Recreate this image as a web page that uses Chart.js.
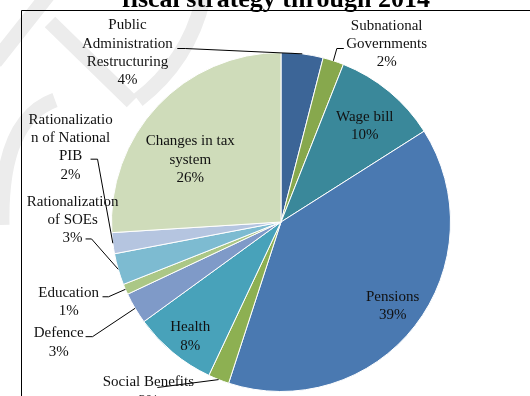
<!DOCTYPE html>
<html>
<head>
<meta charset="utf-8">
<script src="https://cdn.jsdelivr.net/npm/chart.js@4.4.1/dist/chart.umd.min.js"></script>
<style>
  html, body { margin: 0; padding: 0; background: #ffffff; }
  #wrap { position: relative; width: 530px; height: 396px; }
</style>
</head>
<body>
<div id="wrap"><canvas id="chart" width="530" height="396"></canvas></div>
<script>
// Composition of the fiscal strategy measures (shares in %)
const categories = [
  'Public Administration Restructuring',
  'Subnational Governments',
  'Wage bill',
  'Pensions',
  'Social Benefits',
  'Health',
  'Defence',
  'Education',
  'Rationalization of SOEs',
  'Rationalization of National PIB',
  'Changes in tax system'
];
const shares = [4, 2, 10, 39, 2, 8, 3, 1, 3, 2, 26];

// Wrapped label text (category part; the percentage is appended from shares)
const labelLines = [
  ['Public', 'Administration', 'Restructuring'],
  ['Subnational', 'Governments'],
  ['Wage bill'],
  ['Pensions'],
  ['Social Benefits'],
  ['Health'],
  ['Defence'],
  ['Education'],
  ['Rationalization', 'of SOEs'],
  ['Rationalizatio', 'n of National', 'PIB'],
  ['Changes in tax', 'system']
];

const sliceColors = [
  '#3c6597', '#87a84d', '#3a889a', '#4a79b1', '#8db052', '#48a2ba',
  '#7f9ac8', '#abc786', '#7dbbd1', '#b5c5e0', '#cfdcba'
];

// Label layout, in pixels relative to the pie centre for a 170px radius.
// c: centre of the text block; s: leader start; e: leader elbow (optional).
const labelLayout = [
  { c: [-154, -169.5], s: [-104, -174], e: [-96, -174] },
  { c: [106, -178.5], s: [63, -174], e: [56, -174] },
  { c: [84, -96] },
  { c: [112, 84] },
  { c: [-133, 170], s: [-124, 166] },
  { c: [-91, 115] },
  { c: [-223, 121], s: [-196, 115], e: [-189, 115] },
  { c: [-213, 80], s: [-179, 75], e: [-173, 75] },
  { c: [-209, -2], s: [-196, 17], e: [-190, 17] },
  { c: [-211, -75], s: [-191, -63], e: [-184, -63] },
  { c: [-91, -62.5] }
];

const FONT = '15px "Liberation Serif", "Times New Roman", serif';
const LINE_H = 18.3;

// Faint background watermark strokes
const backdrop = {
  id: 'backdrop',
  beforeDraw(chart) {
    const ctx = chart.ctx;
    ctx.save();
    ctx.fillStyle = '#ffffff';
    ctx.fillRect(0, 0, chart.width, chart.height);
    ctx.strokeStyle = '#ececec';
    ctx.lineWidth = 15;
    ctx.lineCap = 'butt';
    ctx.beginPath();
    ctx.moveTo(48, -5); ctx.lineTo(-5, 62);
    ctx.moveTo(50, 22); ctx.lineTo(132, 102);
    ctx.moveTo(204, -5);
    ctx.quadraticCurveTo(190, 60, 138, 100);
    ctx.moveTo(2, 225);
    ctx.quadraticCurveTo(0, 120, 55, 100);
    ctx.stroke();
    ctx.restore();
  }
};

// Title line, frame and slice labels with leader lines
const annotate = {
  id: 'annotate',
  afterDraw(chart) {
    const ctx = chart.ctx;
    const arcs = chart.getDatasetMeta(0).data;
    if (!arcs.length) return;
    const p0 = arcs[0].getProps(['x', 'y', 'outerRadius'], true);
    const cx = p0.x, cy = p0.y, R = p0.outerRadius;
    const k = R / 170;

    ctx.save();
    // frame
    ctx.strokeStyle = '#000000';
    ctx.lineWidth = 1;
    ctx.beginPath();
    ctx.moveTo(21.5, chart.height + 5);
    ctx.lineTo(21.5, 10.5);
    ctx.lineTo(chart.width + 5, 10.5);
    ctx.stroke();

    // title (upper part clipped by the top edge)
    ctx.fillStyle = '#000000';
    ctx.font = 'bold 26px "Liberation Serif", "Times New Roman", serif';
    ctx.textAlign = 'center';
    ctx.textBaseline = 'alphabetic';
    ctx.fillText('fiscal strategy through 2014', 276, 7);

    // leader lines
    ctx.strokeStyle = '#000000';
    ctx.lineWidth = 1;
    arcs.forEach((arc, i) => {
      const L = labelLayout[i];
      if (!L.s) return;
      const p = arc.getProps(['startAngle', 'endAngle'], true);
      const mid = (p.startAngle + p.endAngle) / 2;
      const ex = cx + Math.cos(mid) * R;
      const ey = cy + Math.sin(mid) * R;
      ctx.beginPath();
      ctx.moveTo(cx + L.s[0] * k, cy + L.s[1] * k);
      if (L.e) ctx.lineTo(cx + L.e[0] * k, cy + L.e[1] * k);
      ctx.lineTo(ex, ey);
      ctx.stroke();
    });

    // label text
    ctx.font = FONT;
    ctx.textAlign = 'center';
    ctx.textBaseline = 'middle';
    ctx.fillStyle = '#111111';
    arcs.forEach((arc, i) => {
      const L = labelLayout[i];
      const lines = labelLines[i].concat([shares[i] + '%']);
      const x = cx + L.c[0] * k;
      const y0 = cy + L.c[1] * k - (lines.length - 1) * LINE_H / 2;
      lines.forEach((t, j) => ctx.fillText(t, x, y0 + j * LINE_H));
    });
    ctx.restore();
  }
};

new Chart(document.getElementById('chart'), {
  type: 'pie',
  data: {
    labels: categories,
    datasets: [{
      data: shares,
      backgroundColor: sliceColors,
      borderColor: '#ffffff',
      borderWidth: 1
    }]
  },
  options: {
    responsive: false,
    animation: false,
    layout: { padding: { top: 52, bottom: 4, left: 111, right: 79 } },
    plugins: {
      legend: { display: false },
      tooltip: { enabled: false },
      title: { display: false }
    }
  },
  plugins: [backdrop, annotate]
});
</script>
</body>
</html>
